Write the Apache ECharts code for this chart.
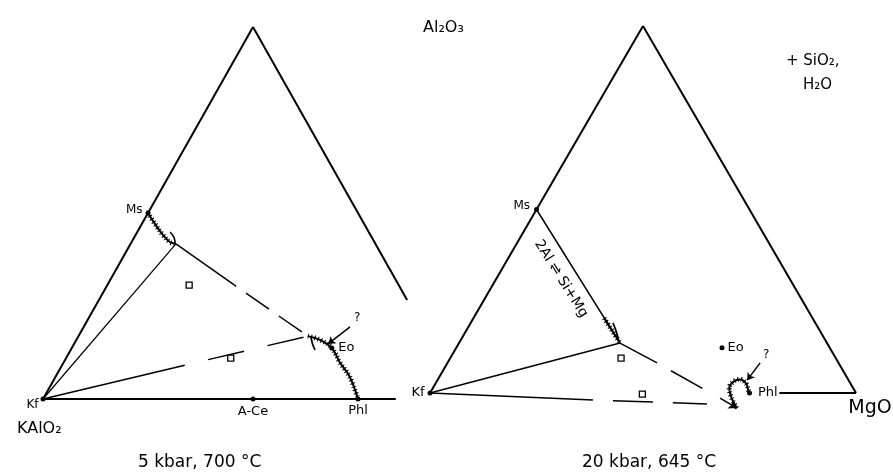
<!DOCTYPE html>
<html><head><meta charset="utf-8">
<script src="https://cdn.jsdelivr.net/npm/echarts@6/dist/echarts.min.js"></script>
<style>html,body{margin:0;background:#fff}#c{width:893px;height:473px}</style>
</head><body><div id="c"></div>
<script>
// Compositions as ternary fractions [Al2O3, MgO]; KAlO2 = remainder.
// ---- Left diagram: 5 kbar, 700 °C ----
const L_edgeLeft   = [[0,0],[1,0]];
const L_edgeRight  = [[1,0],[0.266,0.734]];
const L_base       = [[0,0],[0,0.84]];
const L_hatchMsQ   = [[0.5,0],[0.47,0.032],[0.441,0.065],[0.422,0.091],[0.417,0.108]];
const L_hookQ      = [[0.449,0.078],[0.435,0.094],[0.419,0.105]];
const L_tieKfQ     = [[0,0],[0.417,0.108]];
const L_tieQR_s    = [[0.417,0.108],[0.306,0.303]];
const L_tieQR_d    = [[0.306,0.303],[0.169,0.546]];
const L_tieKfR_s   = [[0,0],[0.091,0.292]];
const L_tieKfR_d   = [[0.091,0.292],[0.169,0.546]];
const L_hatchRPhl  = [[0.169,0.546],[0.159,0.580],[0.137,0.619],[0.099,0.657],[0.059,0.701],[0,0.75]];
const L_hookR      = [[0.165,0.556],[0.145,0.570],[0.132,0.582]];
const L_arrow      = [[0.194,0.634],[0.148,0.605]];
const L_minerals   = ['Ms','Kf','A-Ce','Phl','Eo'];
const L_mineralPts = [[0.5,0],[0,0],[0,0.5],[0,0.75],[0.137,0.619]];
const L_squares    = [[0.306,0.195],[0.110,0.392]];
const L_question   = [0.218,0.639];
// ---- Right diagram: 20 kbar, 645 °C ----
const R_edgeLeft   = [[0,0],[1,0]];
const R_edgeRight  = [[1,0],[0,1]];
const R_base       = [[0,0.82],[0,1]];
const R_tieMsP     = [[0.5,0],[0.136,0.378]];
const R_hatchP     = [[0.204,0.307],[0.136,0.378]];
const R_hookP      = [[0.191,0.334],[0.163,0.357],[0.139,0.374]];
const R_tieKfP     = [[0,0],[0.136,0.378]];
const R_tiePPhl_s  = [[0.136,0.378],[0.082,0.492]];
const R_tiePPhl_d  = [[0.082,0.492],[0.005,0.648]];
const R_tiePPhl_a  = [[-0.014,0.688],[-0.041,0.741]];
const R_tieKfLow_s = [[0,0],[-0.019,0.392]];
const R_tieKfLow_d = [[-0.019,0.392],[-0.030,0.665]];
const R_loop       = [[-0.041,0.741],[-0.014,0.715],[0.013,0.696],[0.031,0.697],[0.037,0.709],[0.026,0.729],[0.008,0.743],[0,0.75]];
const R_arrow      = [[0.082,0.734],[0.035,0.727]];
const R_minerals   = ['Ms','Kf','Eo','Phl','MgO'];
const R_mineralPts = [[0.5,0],[0,0],[0.123,0.624],[0,0.75],[0,1]];
const R_squares    = [[0.095,0.401],[-0.003,0.5]];
const R_question   = [0.104,0.737];
const R_exchange   = [0.311,0.152];
const R_exchangeText = '2Al \u21CC Si+Mg';

const xy = ([a,m]) => [m + a/2, a];
const FONT = 'DejaVu Sans';
const INK = '#000';

function line(g, pts, o = {}) {
  return {type:'line', xAxisIndex:g, yAxisIndex:g, data: pts.map(xy), showSymbol:false, symbol:'none',
    smooth: o.smooth || false, silent:true, animation:false, z: o.z || 2,
    lineStyle:{color:INK, width:o.w || 1.5, type:o.type || 'solid', dashOffset:o.off || 0, cap:'butt', opacity:1}};
}
function hatch(g, pts) {
  return [line(g, pts, {w:2, smooth:0.4}), line(g, pts, {w:5, type:[1,2.4], smooth:0.4})];
}
function arrow(g, pts, size) {
  return {type:'lines', coordinateSystem:'cartesian2d', xAxisIndex:g, yAxisIndex:g, silent:true, animation:false,
    symbol:['none','arrow'], symbolSize:size || 7,
    lineStyle:{color:INK, width:1.5, opacity:1, curveness:0},
    data:[{coords: pts.map(xy)}]};
}
function dots(g, names, pts, labelCfg) {
  return {type:'scatter', xAxisIndex:g, yAxisIndex:g, silent:true, animation:false, symbol:'circle', symbolSize:5,
    itemStyle:{color:INK, opacity:1},
    data: pts.map((p,i) => ({value: xy(p), name: names[i], label: labelCfg[i]})),
    label:{show:true, formatter:'{b}', color:INK, opacity:1, fontFamily:FONT, fontSize:12}};
}
function squares(g, pts) {
  return {type:'scatter', xAxisIndex:g, yAxisIndex:g, silent:true, animation:false, symbol:'rect', symbolSize:6,
    itemStyle:{color:'#fff', borderColor:INK, borderWidth:1.3, opacity:1}, data: pts.map(xy)};
}
function textAt(g, p, text, extra) {
  return {type:'scatter', xAxisIndex:g, yAxisIndex:g, silent:true, animation:false, symbolSize:0,
    itemStyle:{opacity:1},
    data:[{value: xy(p)}],
    label:Object.assign({show:true, position:'inside', formatter:text, color:INK, opacity:1, fontFamily:FONT, fontSize:12}, extra || {})};
}

const axis = () => ({type:'value', min:0, max:1, show:false});
const yaxis = () => ({type:'value', min:-0.1, max:1, show:false});

const series = [
  // left
  line(0, L_edgeLeft, {w:2}), line(0, L_edgeRight, {w:2}), line(0, L_base, {w:2}),
  ...hatch(0, L_hatchMsQ), line(0, L_hookQ, {w:1.6, smooth:0.5}),
  line(0, L_tieKfQ, {w:1.2}),
  line(0, L_tieQR_s), line(0, L_tieQR_d, {type:[28,12], off:26}),
  line(0, L_tieKfR_s), line(0, L_tieKfR_d, {type:[37,24], off:37}),
  ...hatch(0, L_hatchRPhl), line(0, L_hookR, {w:1.7, smooth:0.5}),
  arrow(0, L_arrow),
  squares(0, L_squares),
  dots(0, L_minerals, L_mineralPts, [
    {position:'left', distance:3, offset:[0,-3], fontSize:12},
    {position:'left', distance:2, offset:[0,6], fontSize:12},
    {position:'bottom', distance:4, fontSize:13},
    {position:'bottom', distance:3, fontSize:13},
    {position:'right', distance:4, fontSize:13}]),
  textAt(0, L_question, '?', {fontSize:12}),
  // right
  line(1, R_edgeLeft, {w:2}), line(1, R_edgeRight, {w:2}), line(1, R_base, {w:2}),
  line(1, R_tieMsP, {w:1.5}), ...hatch(1, R_hatchP), line(1, R_hookP, {w:1.7, smooth:0.5}),
  line(1, R_tieKfP, {w:1.5}),
  line(1, R_tiePPhl_s), line(1, R_tiePPhl_d, {type:[36,16], off:36}), arrow(1, R_tiePPhl_a, 8),
  line(1, R_tieKfLow_s), line(1, R_tieKfLow_d, {type:[40,20], off:40}),
  ...hatch(1, R_loop),
  arrow(1, R_arrow),
  squares(1, R_squares),
  dots(1, R_minerals, R_mineralPts, [
    {position:'left', distance:4, offset:[0,-4], fontSize:12},
    {position:'left', distance:3, fontSize:13},
    {position:'right', distance:3, fontSize:13},
    {position:'right', distance:6, fontSize:13},
    {position:'bottom', distance:6, offset:[14,0], fontSize:19}]),
  textAt(1, R_question, '?', {fontSize:12}),
  textAt(1, R_exchange, R_exchangeText, {fontSize:14, rotate:-58})
];
// hide MgO vertex dot
series[series.length-3].data[4].symbolSize = 0;

const t = (text, left, top, size) => ({text, left, top, textStyle:{fontFamily:FONT, fontWeight:'normal', fontSize:size, color:INK}});

const chart = echarts.init(document.getElementById('c'), null, {renderer:'canvas'});
chart.setOption({
  backgroundColor:'#fff',
  animation:false,
  title:[
    t('Al\u2082O\u2083', 418, 15, 16),
    t('+ SiO\u2082,', 781, 49, 15),
    t('H\u2082O', 798, 73, 15),
    t('KAlO\u2082', 12, 416, 16),
    t('5 kbar, 700 \u00B0C', 133, 449, 17),
    t('20 kbar, 645 \u00B0C', 577, 449, 17)
  ],
  grid:[
    {left:43, width:420, top:27, height:409.2},
    {left:430, width:426, top:26, height:403.7}
  ],
  xAxis:[Object.assign(axis(),{gridIndex:0}), Object.assign(axis(),{gridIndex:1})],
  yAxis:[Object.assign(yaxis(),{gridIndex:0}), Object.assign(yaxis(),{gridIndex:1})],
  series
});
</script></body></html>
